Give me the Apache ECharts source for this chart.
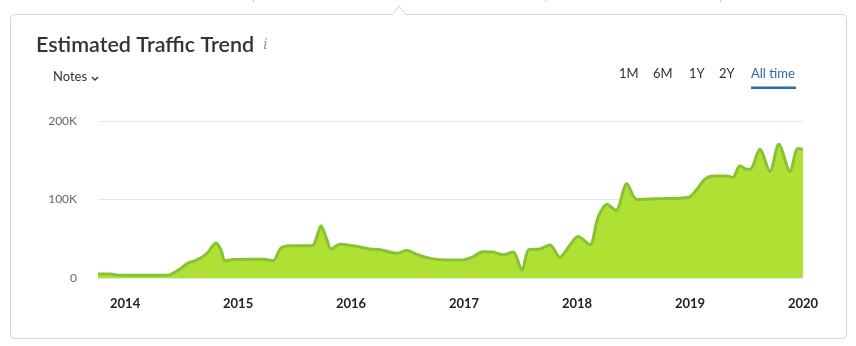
<!DOCTYPE html>
<html>
<head>
<meta charset="utf-8">
<script src="https://cdn.jsdelivr.net/npm/echarts@6/dist/echarts.min.js"></script>
<style>
  html, body { margin: 0; padding: 0; background: #fff; }
  #chart { width: 856px; height: 346px; }
</style>
</head>
<body>
<div id="chart"></div>
<script>
// Decimal-year positions of the samples
const dates = [
  2013.760, 2013.866, 2013.955, 2014.176, 2014.379, 2014.486, 2014.556, 2014.636,
  2014.725, 2014.804, 2014.848, 2014.884, 2014.955, 2015.105, 2015.220, 2015.309,
  2015.379, 2015.459, 2015.654, 2015.698, 2015.733, 2015.786, 2015.822, 2015.902,
  2016.017, 2016.167, 2016.256, 2016.406, 2016.494, 2016.583, 2016.698, 2016.848,
  2016.990, 2017.079, 2017.167, 2017.256, 2017.344, 2017.433, 2017.512, 2017.574,
  2017.672, 2017.760, 2017.848, 2017.937, 2018.008, 2018.114, 2018.185, 2018.264,
  2018.344, 2018.441, 2018.530, 2018.707, 2018.981, 2019.061, 2019.132, 2019.211,
  2019.326, 2019.380, 2019.441, 2019.503, 2019.548, 2019.618, 2019.707, 2019.786,
  2019.884, 2019.955, 2020.000
];
// Estimated traffic (visits)
const traffic = [
  5000, 5000, 3500, 3500, 3500, 11500, 19000, 23000,
  31500, 44500, 36000, 22000, 23500, 24000, 24000, 22000,
  38000, 41000, 41000, 53000, 66500, 49000, 37000, 43000,
  41000, 37000, 36000, 31500, 35000, 30000, 25000, 23000,
  23000, 27000, 33500, 33000, 29500, 33000, 10000, 36000,
  37000, 42000, 26500, 42000, 53000, 42500, 77000, 94000,
  86000, 120000, 100000, 101000, 102500, 113000, 126000, 130000,
  130000, 128000, 143000, 138500, 140500, 164000, 136000, 170500,
  136000, 165000, 164000
];
const yearTicks = [2014, 2015, 2016, 2017, 2018, 2019, 2020];
const yTicks = [0, 100000, 200000];
const periodButtons = ['1M', '6M', '1Y', '2Y', 'All time'];

const chart = echarts.init(document.getElementById('chart'), null, { renderer: 'canvas' });

const seriesData = dates.map((d, i) => [d, traffic[i]]);
const font = 'Lato, "Open Sans", "Noto Sans", sans-serif';

const btnX = [619, 653, 689, 719, 751];
const graphics = [
  // card
  { type: 'rect', shape: { x: 10.5, y: 14.5, width: 836, height: 324, r: 4 },
    style: { fill: '#fff', stroke: '#d4d4d4', lineWidth: 1 }, z: -10 },
  // notch on top border
  { type: 'polyline', shape: { points: [[392, 15], [399, 6], [406, 15]] },
    style: { fill: '#fff', stroke: '#d4d4d4', lineWidth: 1 }, z: -9 },
  { type: 'line', shape: { x1: 393, y1: 14.5, x2: 405, y2: 14.5 },
    style: { stroke: '#fff', lineWidth: 2 }, z: -8 },
  // small marks at top edge
  { type: 'line', shape: { x1: 253.5, y1: 0, x2: 253.5, y2: 2 }, style: { stroke: '#ccc', lineWidth: 1 } },
  { type: 'line', shape: { x1: 545.5, y1: 0, x2: 545.5, y2: 2 }, style: { stroke: '#ccc', lineWidth: 1 } },
  { type: 'line', shape: { x1: 720.5, y1: 0, x2: 720.5, y2: 2 }, style: { stroke: '#ccc', lineWidth: 1 } },
  // title
  { type: 'text', left: 36, top: 34,
    style: { text: 'Estimated Traffic Trend', fill: '#333', font: '600 21.5px ' + font } },
  { type: 'text', left: 263, top: 38,
    style: { text: 'i', fill: '#999', font: 'italic 15px "DejaVu Serif", serif' } },
  // notes
  { type: 'text', left: 53, top: 70,
    style: { text: 'Notes', fill: '#333', font: '13px ' + font } },
  { type: 'polyline', shape: { points: [[92, 77], [95, 80], [98, 77]] },
    style: { fill: null, stroke: '#333', lineWidth: 1.4 } },
  // underline of active button
  { type: 'rect', shape: { x: 751, y: 86.5, width: 45, height: 2.5 },
    style: { fill: '#2b6ca6' } }
];
periodButtons.forEach((t, i) => {
  graphics.push({ type: 'text', left: btnX[i], top: 67,
    style: { text: t, fill: t === 'All time' ? '#2b6ca6' : '#333', font: '13px ' + font } });
});

chart.setOption({
  animation: false,
  grid: { left: 98, right: 53, top: 121, bottom: 68 },
  xAxis: {
    type: 'value',
    min: dates[0],
    max: dates[dates.length - 1],
    axisLine: { show: false },
    axisTick: { show: false },
    splitLine: { show: false },
    axisLabel: {
      customValues: yearTicks,
      formatter: v => String(Math.round(v)),
      color: '#222',
      fontFamily: font,
      fontWeight: 'bold',
      fontSize: 13,
      margin: 19,
      showMinLabel: true,
      showMaxLabel: true
    }
  },
  yAxis: {
    type: 'value',
    min: 0,
    max: 200000,
    interval: 100000,
    axisLine: { show: false },
    axisTick: { show: false },
    splitLine: { lineStyle: { color: '#e6e6e6', width: 1 } },
    axisLabel: {
      formatter: v => v === 0 ? '0' : (v / 1000) + 'K',
      color: '#666',
      fontFamily: font,
      fontSize: 12,
      margin: 21
    }
  },
  series: [{
    type: 'line',
    data: seriesData,
    smooth: 0.3,
    symbol: 'none',
    lineStyle: { color: '#86c232', width: 3 },
    areaStyle: { color: '#afe034', opacity: 1 },
    z: 3
  }],
  graphic: graphics
});
</script>
</body>
</html>
